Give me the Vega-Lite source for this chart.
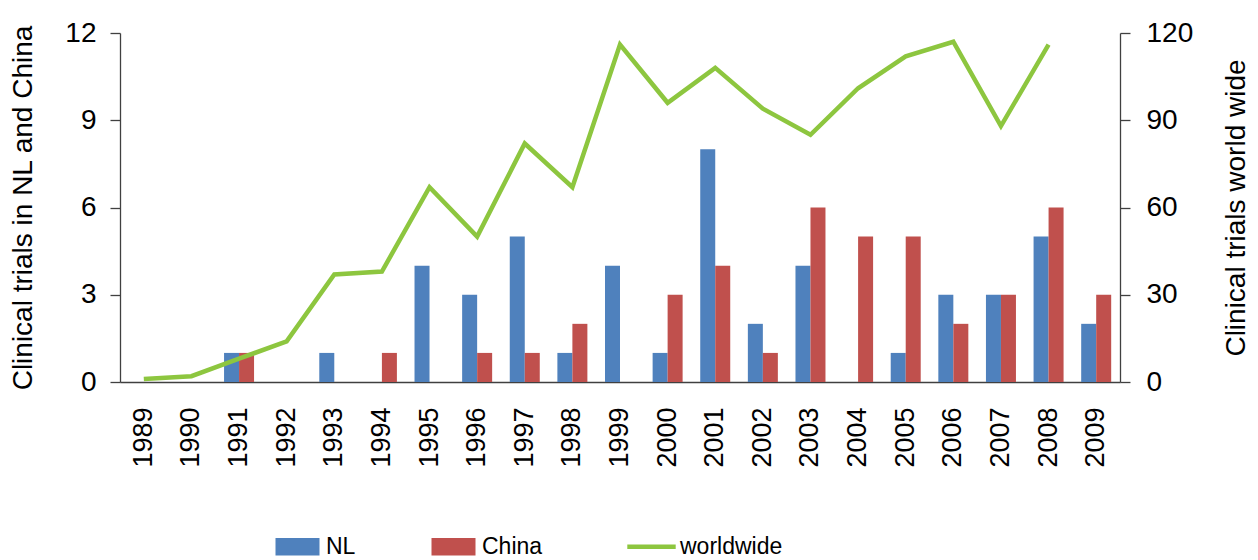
{
  "$schema": "https://vega.github.io/schema/vega-lite/v6.json",
  "width": 1000,
  "height": 349,
  "autosize": {"type": "none"},
  "padding": {"left": 120, "top": 33, "right": 138, "bottom": 178},
  "background": "white",
  "config": {
    "view": {"stroke": null},
    "font": "Liberation Sans",
    "axis": {
      "grid": false,
      "domainColor": "#404040",
      "tickColor": "#404040",
      "domainWidth": 1.3,
      "tickWidth": 1.3,
      "labelColor": "#000000",
      "titleColor": "#000000",
      "titleFontWeight": "normal",
      "labelFont": "Liberation Sans",
      "titleFont": "Liberation Sans"
    }
  },
  "datasets": {
    "bars": [
      {"year": "1989", "series": "NL", "count": 0}, {"year": "1989", "series": "China", "count": 0},
      {"year": "1990", "series": "NL", "count": 0}, {"year": "1990", "series": "China", "count": 0},
      {"year": "1991", "series": "NL", "count": 1}, {"year": "1991", "series": "China", "count": 1},
      {"year": "1992", "series": "NL", "count": 0}, {"year": "1992", "series": "China", "count": 0},
      {"year": "1993", "series": "NL", "count": 1}, {"year": "1993", "series": "China", "count": 0},
      {"year": "1994", "series": "NL", "count": 0}, {"year": "1994", "series": "China", "count": 1},
      {"year": "1995", "series": "NL", "count": 4}, {"year": "1995", "series": "China", "count": 0},
      {"year": "1996", "series": "NL", "count": 3}, {"year": "1996", "series": "China", "count": 1},
      {"year": "1997", "series": "NL", "count": 5}, {"year": "1997", "series": "China", "count": 1},
      {"year": "1998", "series": "NL", "count": 1}, {"year": "1998", "series": "China", "count": 2},
      {"year": "1999", "series": "NL", "count": 4}, {"year": "1999", "series": "China", "count": 0},
      {"year": "2000", "series": "NL", "count": 1}, {"year": "2000", "series": "China", "count": 3},
      {"year": "2001", "series": "NL", "count": 8}, {"year": "2001", "series": "China", "count": 4},
      {"year": "2002", "series": "NL", "count": 2}, {"year": "2002", "series": "China", "count": 1},
      {"year": "2003", "series": "NL", "count": 4}, {"year": "2003", "series": "China", "count": 6},
      {"year": "2004", "series": "NL", "count": 0}, {"year": "2004", "series": "China", "count": 5},
      {"year": "2005", "series": "NL", "count": 1}, {"year": "2005", "series": "China", "count": 5},
      {"year": "2006", "series": "NL", "count": 3}, {"year": "2006", "series": "China", "count": 2},
      {"year": "2007", "series": "NL", "count": 3}, {"year": "2007", "series": "China", "count": 3},
      {"year": "2008", "series": "NL", "count": 5}, {"year": "2008", "series": "China", "count": 6},
      {"year": "2009", "series": "NL", "count": 2}, {"year": "2009", "series": "China", "count": 3}
    ],
    "ww": [
      {"year": "1989", "trials": 1}, {"year": "1990", "trials": 2}, {"year": "1991", "trials": 8},
      {"year": "1992", "trials": 14}, {"year": "1993", "trials": 37}, {"year": "1994", "trials": 38},
      {"year": "1995", "trials": 67}, {"year": "1996", "trials": 50}, {"year": "1997", "trials": 82},
      {"year": "1998", "trials": 67}, {"year": "1999", "trials": 116}, {"year": "2000", "trials": 96},
      {"year": "2001", "trials": 108}, {"year": "2002", "trials": 94}, {"year": "2003", "trials": 85},
      {"year": "2004", "trials": 101}, {"year": "2005", "trials": 112}, {"year": "2006", "trials": 117},
      {"year": "2007", "trials": 88}, {"year": "2008", "trials": 116}, {"year": "2009", "trials": null}
    ]
  },
  "layer": [
    {
      "data": {"name": "bars"},
      "mark": {"type": "bar"},
      "encoding": {
        "x": {
          "field": "year", "type": "ordinal",
          "scale": {"paddingInner": 0.37, "paddingOuter": 0.185},
          "axis": {"title": null, "labelAngle": -90, "labelFontSize": 27, "ticks": false, "tickSize": 0, "labelPadding": 25}
        },
        "xOffset": {"field": "series", "type": "nominal", "scale": {"domain": ["NL", "China"], "paddingInner": 0, "paddingOuter": 0}},
        "y": {
          "field": "count", "type": "quantitative",
          "scale": {"domain": [0, 12], "nice": false},
          "axis": {"title": "Clinical trials in NL and China", "values": [0, 3, 6, 9, 12], "tickSize": 10, "labelPadding": 14, "labelFontSize": 28, "titleFontSize": 28, "titlePadding": 27}
        },
        "color": {
          "field": "series", "type": "nominal",
          "scale": {"domain": ["NL", "China", "worldwide"], "range": ["#4F81BD", "#C0504D", "#8DC63F"]},
          "legend": {
            "title": null,
            "orient": "none",
            "legendX": 166,
            "legendY": 502,
            "direction": "horizontal",
            "padding": 0,
            "symbolSize": 1936,
            "labelFontSize": 23,
            "labelFont": "Liberation Sans",
            "labelColor": "#000000",
            "labelOffset": 17,
            "columnPadding": 75,
            "encode": {
              "symbols": {
                "update": {
                  "shape": {"signal": "datum.value === 'worldwide' ? 'M-1.1,0H1.1' : 'M-1,-0.4H1V0.4H-1Z'"},
                  "fill": {"signal": "datum.value === 'worldwide' ? 'transparent' : (datum.value === 'NL' ? '#4F81BD' : '#C0504D')"},
                  "stroke": {"signal": "datum.value === 'worldwide' ? '#8DC63F' : 'transparent'"},
                  "strokeWidth": {"signal": "datum.value === 'worldwide' ? 4.5 : 0"},
                  "opacity": {"value": 1},
                  "fillOpacity": {"value": 1},
                  "strokeOpacity": {"value": 1}
                }
              }
            }
          }
        }
      }
    },
    {
      "data": {"name": "ww"},
      "mark": {"type": "line", "strokeWidth": 4.5},
      "encoding": {
        "x": {"field": "year", "type": "ordinal"},
        "y": {
          "field": "trials", "type": "quantitative",
          "scale": {"domain": [0, 120], "nice": false},
          "axis": {"orient": "right", "title": "Clinical trials world wide", "values": [0, 30, 60, 90, 120], "tickSize": 10, "labelPadding": 16, "labelFontSize": 28, "titleFontSize": 28, "titleAngle": -90, "titlePadding": 58}
        },
        "color": {"datum": "worldwide"}
      }
    }
  ],
  "resolve": {"scale": {"y": "independent"}}
}
